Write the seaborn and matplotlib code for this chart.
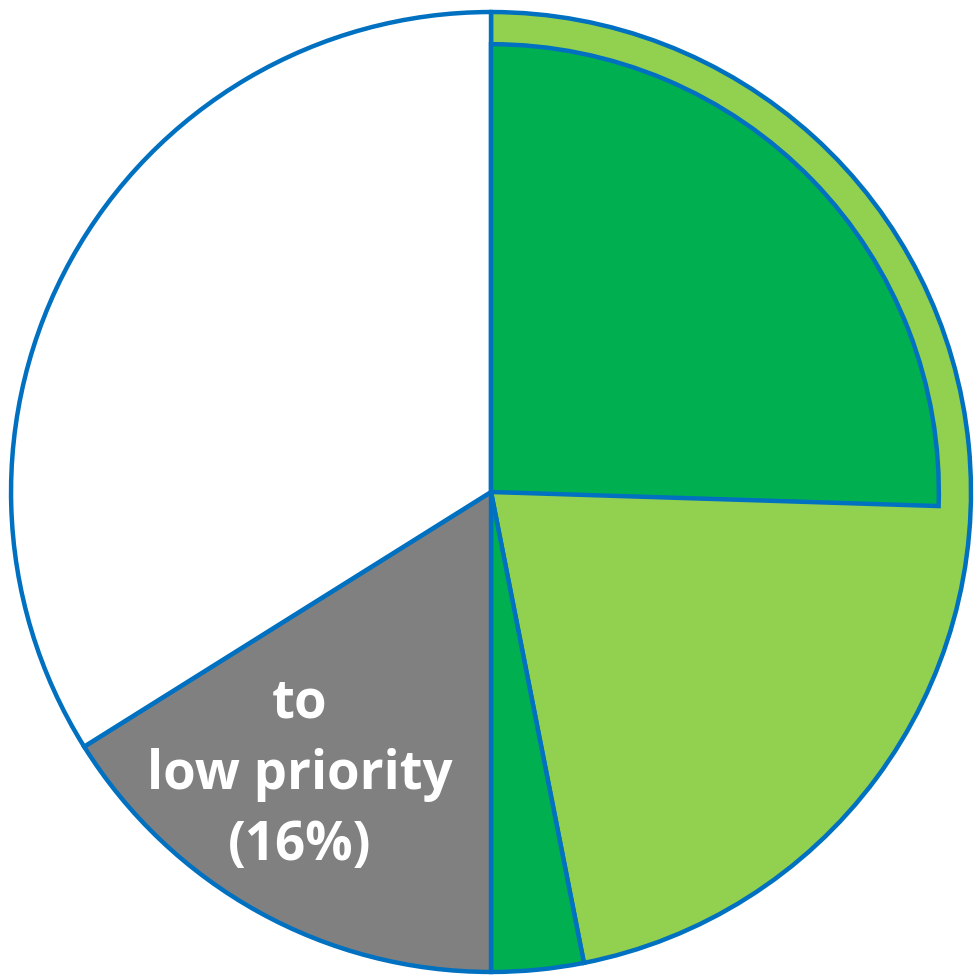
import matplotlib.pyplot as plt
import seaborn as sns

# outer pie, clockwise from 12 o'clock (percent)
segments = ["high priority", "high priority (rest)", "to low priority", "other"]
shares = [46.9, 3.1, 16.1, 33.9]
colors = ["#92D050", "#00B050", "#808080", "#FFFFFF"]

# inner wedge drawn on top of the light-green slice
inner_share = 25.5
inner_color = "#00B050"

label_text = "to\nlow priority\n(16%)"

sns.set_style("white")
plt.rcParams['font.family'] = ['Open Sans', 'DejaVu Sans']

edge = "#0070C0"
fig = plt.figure(figsize=(9.79, 9.80), dpi=100)
ax = fig.add_axes([0, 0, 1, 1])

ax.pie(shares, colors=colors, startangle=90, counterclock=False, radius=1,
       wedgeprops=dict(edgecolor=edge, linewidth=3.2))

inner, _ = ax.pie([inner_share, 100 - inner_share], colors=[inner_color, "white"],
                  startangle=90, counterclock=False, radius=0.933,
                  wedgeprops=dict(edgecolor=edge, linewidth=3.2))
inner[1].set_visible(False)

ax.text(-0.398, -0.59, label_text, color="white", fontsize=38, fontweight="bold",
        ha="center", va="center", linespacing=1.42)

ax.set_xlim(-1.023, 1.0167)
ax.set_ylim(-1.0167, 1.025)
ax.set_aspect("equal")
ax.axis("off")

fig.savefig("out.png", dpi=100)
